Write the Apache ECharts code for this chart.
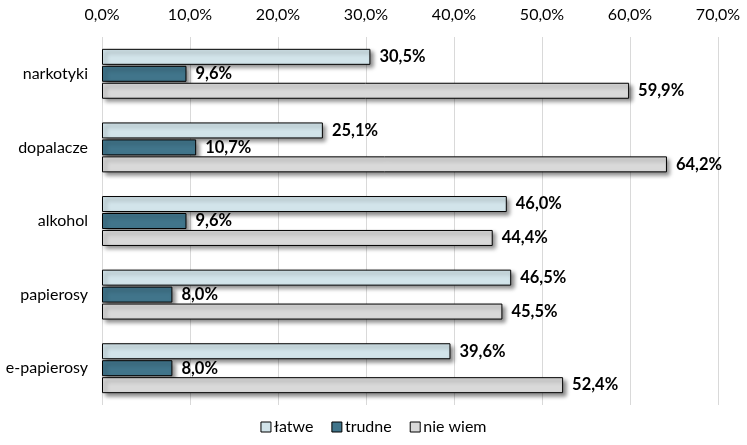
<!DOCTYPE html>
<html><head><meta charset="utf-8">
<script src="https://cdn.jsdelivr.net/npm/echarts@6/dist/echarts.min.js"></script>
<style>html,body{margin:0;padding:0;background:#fff}#c{width:747px;height:445px}</style>
</head><body><div id="c"></div>
<script>
const categories = ['narkotyki','dopalacze','alkohol','papierosy','e-papierosy'];
const seriesNames = ['łatwe','trudne','nie wiem'];
const latwe = [30.5, 25.1, 46.0, 46.5, 39.6];
const trudne = [9.6, 10.7, 9.6, 8.0, 8.0];
const nieWiem = [59.9, 64.2, 44.4, 45.5, 52.4];
const xTicks = [0,10,20,30,40,50,60,70];

const FONT = "Lato, sans-serif";
const colors = ['#d2e4ea', '#41758b', '#d9d9d9'];
const fmt = v => v.toFixed(1).replace('.', ',') + '%';

function mk(name, data, color){
  return {
    name, type:'bar', data,
    barWidth: 16, barGap: '6%', barCategoryGap: '30%',
    itemStyle:{color, borderColor:'#000', borderWidth:1,
      shadowColor:'rgba(0,0,0,0.45)', shadowBlur:4, shadowOffsetX:3, shadowOffsetY:3},
    label:{show:true, position:'right', distance:9, formatter:p=>fmt(p.value),
      fontFamily:FONT, fontWeight:'bold', fontSize:16.5, color:'#000'}
  };
}
const chart = echarts.init(document.getElementById('c'), null, {renderer:'canvas'});
chart.setOption({
  animation:false,
  textStyle:{fontFamily:FONT},
  grid:{left:102, right:29, top:37, bottom:40},
  xAxis:{type:'value', position:'top', min:xTicks[0], max:xTicks[xTicks.length-1], interval:10,
    axisLine:{show:false}, axisTick:{show:false},
    splitLine:{lineStyle:{color:'#d9d9d9', width:1}},
    axisLabel:{formatter:v=>fmt(v), fontFamily:FONT, fontSize:16, color:'#000', margin:14}},
  yAxis:{type:'category', data:categories, inverse:true,
    axisLine:{show:false}, axisTick:{show:false},
    axisLabel:{fontFamily:FONT, fontSize:16, color:'#000', margin:14}},
  legend:{bottom:5, left:'center', itemWidth:10, itemHeight:10, itemGap:18,
    icon:'rect', textStyle:{fontFamily:FONT, fontSize:16, color:'#000', padding:[0,0,0,-2]},
    data:seriesNames.map((n,i)=>({name:n, itemStyle:{borderColor:'#000', borderWidth:1, shadowBlur:0, shadowOffsetX:0, shadowOffsetY:0}}))},
  series:[mk(seriesNames[0], latwe, colors[0]), mk(seriesNames[1], trudne, colors[1]), mk(seriesNames[2], nieWiem, colors[2])]
});
</script></body></html>
